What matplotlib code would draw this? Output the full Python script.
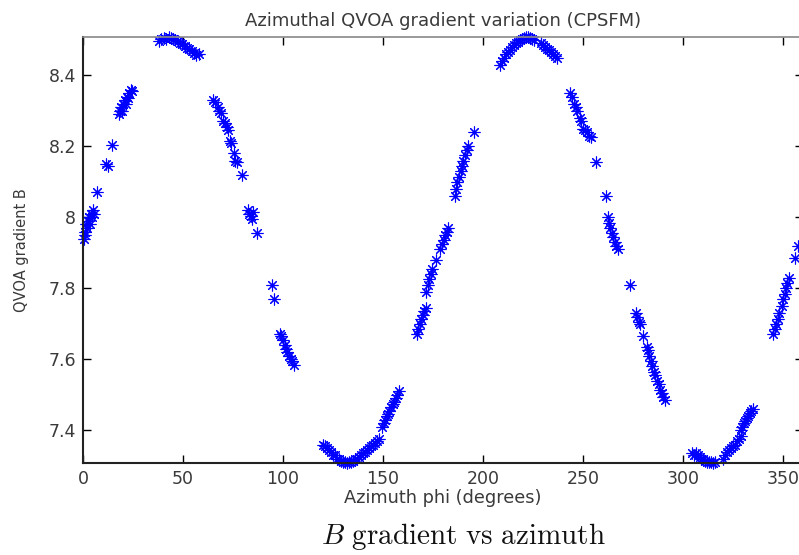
# Azimuthal QVOA gradient variation, B vs azimuth

import matplotlib
matplotlib.use("Agg")
import matplotlib.pyplot as plt
import numpy as np

phi_rise0 = [0.3, 0.8, 1.2, 1.5, 2.0, 2.4, 2.9, 3.3, 3.8, 4.5, 5.0, 5.5,
             7.0, 11.5, 12.3, 14.5,
             17.8, 18.5, 19.0, 19.6, 20.2, 20.8, 21.3, 21.9, 22.5, 23.1, 23.8, 24.5]
b_rise0 = [7.94, 7.96, 7.95, 7.98, 7.97, 7.99, 8.00, 7.98, 8.01, 8.00, 8.02, 8.01,
           8.07, 8.15, 8.145, 8.205,
           8.29, 8.30, 8.31, 8.30, 8.32, 8.33, 8.32, 8.34, 8.335, 8.35, 8.36, 8.355]

phi_peak1 = [38.0, 39.2, 40.5, 41.6, 42.8, 43.9, 45.0, 46.2, 47.3, 48.5, 49.6,
             50.8, 52.0, 53.1, 54.3, 55.4, 56.6, 57.8]
b_peak1 = [8.497, 8.503, 8.506, 8.503, 8.507, 8.505, 8.502, 8.500, 8.496, 8.492,
           8.488, 8.483, 8.478, 8.474, 8.468, 8.462, 8.457, 8.460]

phi_fall1 = [65.0, 66.2, 67.3, 68.0, 69.0, 70.2, 71.0, 71.8, 72.5, 73.6, 74.2,
             75.5, 76.0, 76.8, 79.3,
             82.5, 83.2, 83.8, 84.5, 85.0, 87.0,
             94.5, 95.5,
             98.5, 99.2, 100.0, 100.8, 101.5, 102.2, 103.0, 103.8, 104.5, 105.5]
b_fall1 = [8.33, 8.325, 8.31, 8.30, 8.295, 8.27, 8.265, 8.255, 8.245, 8.215, 8.21,
           8.18, 8.16, 8.155, 8.12,
           8.02, 8.01, 8.005, 7.995, 8.015, 7.955,
           7.81, 7.77,
           7.67, 7.665, 7.655, 7.64, 7.63, 7.62, 7.61, 7.60, 7.595, 7.585]

phi_trough1 = [120.0, 121.0, 122.0, 123.0, 124.0, 125.0, 126.0, 127.0, 128.0,
               129.0, 130.0, 131.0, 132.0, 133.0, 134.0, 135.0, 136.0, 137.0,
               138.0, 139.0, 140.0, 141.0, 142.0, 143.0, 144.0, 145.0, 146.0,
               147.0, 148.0]
b_trough1 = [7.36, 7.355, 7.35, 7.345, 7.34, 7.33, 7.33, 7.32, 7.318,
             7.315, 7.31, 7.312, 7.308, 7.31, 7.31, 7.315, 7.318, 7.32,
             7.325, 7.33, 7.335, 7.34, 7.345, 7.35, 7.355, 7.36, 7.365,
             7.37, 7.375]

phi_rise1 = [149.5, 150.3, 151.0, 151.8, 152.5, 153.2, 154.0, 154.8, 155.5, 156.3,
             157.0, 157.8,
             166.8, 167.5, 168.3, 169.0, 169.8, 170.5, 171.3,
             171.5, 172.3, 173.0, 173.8, 174.5, 176.5, 178.5, 179.5, 180.3, 181.0,
             181.8, 182.5,
             185.8, 186.5, 187.2, 188.0, 188.8, 189.5, 190.2, 191.0, 191.8, 192.5,
             195.5]
b_rise1 = [7.41, 7.42, 7.43, 7.44, 7.445, 7.455, 7.465, 7.475, 7.48, 7.49,
           7.50, 7.51,
           7.67, 7.685, 7.70, 7.715, 7.725, 7.735, 7.745,
           7.79, 7.81, 7.825, 7.84, 7.855, 7.88, 7.91, 7.925, 7.935, 7.95,
           7.96, 7.97,
           8.06, 8.08, 8.10, 8.115, 8.13, 8.145, 8.16, 8.175, 8.19, 8.20,
           8.24]

phi_peak2 = [208.5, 209.5, 210.5, 211.5, 212.5, 213.5, 214.5, 215.5, 216.5, 217.5,
             218.5, 219.5, 220.5, 221.5, 222.5, 223.5, 224.5, 225.5,
             229.0, 230.0, 231.0, 232.0, 233.0, 234.0, 235.0, 236.0, 237.0]
b_peak2 = [8.43, 8.44, 8.45, 8.46, 8.465, 8.47, 8.48, 8.485, 8.49, 8.495,
           8.50, 8.503, 8.506, 8.507, 8.507, 8.505, 8.503, 8.50,
           8.49, 8.485, 8.48, 8.475, 8.47, 8.465, 8.46, 8.455, 8.45]

phi_fall2 = [243.5, 244.5, 245.5, 246.5, 247.0, 248.5, 249.0, 250.0, 251.0, 252.0,
             253.0, 254.0, 256.5, 261.5,
             262.5, 263.0, 263.5, 264.3, 265.0, 265.8, 266.5, 267.3,
             273.5,
             276.5, 277.0, 277.8, 278.5, 280.0,
             281.8, 282.5, 283.0, 284.0, 284.5, 285.5, 286.0, 287.0, 287.8, 288.5,
             289.3, 290.0, 291.0]
b_fall2 = [8.35, 8.34, 8.32, 8.31, 8.30, 8.28, 8.27, 8.25, 8.245, 8.24,
           8.23, 8.225, 8.155, 8.06,
           8.00, 7.985, 7.97, 7.955, 7.945, 7.93, 7.92, 7.91,
           7.81,
           7.73, 7.72, 7.705, 7.70, 7.665,
           7.635, 7.625, 7.61, 7.595, 7.58, 7.565, 7.555, 7.54, 7.53, 7.515,
           7.505, 7.495, 7.485]

phi_trough2 = [304.5, 305.5, 306.5, 307.5, 308.5, 309.0, 310.0, 311.0, 312.0,
               313.0, 314.0, 315.0, 316.0]
b_trough2 = [7.335, 7.33, 7.335, 7.33, 7.325, 7.32, 7.318, 7.315, 7.31,
             7.312, 7.31, 7.308, 7.31]

phi_rise2 = [320.0, 321.0, 322.0, 323.0, 324.0, 325.0, 326.0, 327.0, 328.0, 329.0,
             328.8, 329.5, 330.3, 331.0, 331.8, 332.5, 333.3, 334.0, 334.8,
             345.0, 345.8, 346.5, 347.3, 348.0, 349.5, 350.2, 350.8, 351.5, 352.2,
             352.8, 356.0, 357.5]
b_rise2 = [7.32, 7.33, 7.34, 7.345, 7.35, 7.355, 7.36, 7.37, 7.375, 7.385,
           7.40, 7.41, 7.42, 7.425, 7.435, 7.44, 7.45, 7.455, 7.46,
           7.67, 7.685, 7.70, 7.715, 7.73, 7.75, 7.77, 7.785, 7.80, 7.815,
           7.83, 7.885, 7.92]

phi = np.concatenate([phi_rise0, phi_peak1, phi_fall1, phi_trough1, phi_rise1,
                      phi_peak2, phi_fall2, phi_trough2, phi_rise2])
b_grad = np.concatenate([b_rise0, b_peak1, b_fall1, b_trough1, b_rise1,
                         b_peak2, b_fall2, b_trough2, b_rise2])

x_ticks = [0, 50, 100, 150, 200, 250, 300, 350]
y_ticks = [7.4, 7.6, 7.8, 8.0, 8.2, 8.4]
y_tick_labels = ["7.4", "7.6", "7.8", "8", "8.2", "8.4"]

text_col = "#3a3a3a"

fig = plt.figure(figsize=(7.99, 5.55), dpi=100)
# axes run a little past the right edge of the picture, as in the original
ax = fig.add_axes([83 / 799, 92 / 555, 720 / 799, 426 / 555])

ax.plot(phi, b_grad, linestyle="none", marker=(8, 2, 0), markersize=8.5,
        markeredgewidth=0.8, color="#0000ff", clip_on=False)

ax.set_xlim(0, 360)
ax.set_ylim(7.308, 8.508)
ax.set_xticks(x_ticks)
ax.set_yticks(y_ticks)
ax.set_yticklabels(y_tick_labels)

ax.tick_params(direction="in", length=6, width=1, top=True, right=True,
               labelsize=12.5, labelcolor=text_col, pad=5)
for side in ["left", "bottom"]:
    ax.spines[side].set_linewidth(1.5)
    ax.spines[side].set_color("#222222")
for side in ["top", "right"]:
    ax.spines[side].set_linewidth(1.2)
    ax.spines[side].set_color("#888888")

ax.set_title("Azimuthal QVOA gradient variation (CPSFM)", fontsize=13,
             color=text_col, pad=8)
ax.set_xlabel("Azimuth phi (degrees)", fontsize=12.8, color=text_col, labelpad=1)
ax.set_ylabel("QVOA gradient B", fontsize=10.5, color=text_col, labelpad=14)

plt.rcParams["mathtext.fontset"] = "cm"
fig.text(463 / 799, 1 - 537 / 555, r"$B\ \mathrm{gradient\ vs\ azimuth}$",
         fontsize=21, ha="center", va="center", color="#111111")

fig.savefig("out.png", dpi=100)
